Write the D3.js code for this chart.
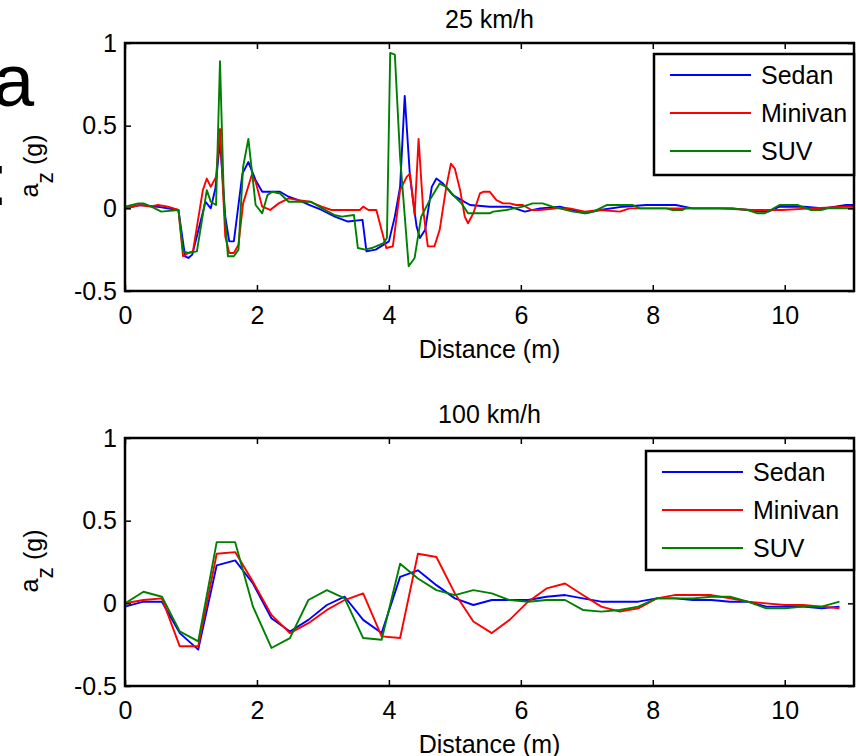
<!DOCTYPE html>
<html>
<head>
<meta charset="utf-8">
<script src="https://cdn.jsdelivr.net/npm/d3@7"></script>
<style>
  body { margin: 0; background: #fff; }
  svg { display: block; font-family: "Liberation Sans", Arial, sans-serif; }
</style>
</head>
<body>
<div id="chart"></div>
<script>
// ---- data ----
const vehicles = ['Sedan', 'Minivan', 'SUV'];
const xTicks = [0, 2, 4, 6, 8, 10];
const yTicks = [-0.5, 0, 0.5, 1];

// 25 km/h (dense sampling)
const sedanX25 = [0, 0.23, 0.48, 0.81, 0.91, 0.96, 1.02, 1.22, 1.30, 1.37, 1.44, 1.52, 1.58, 1.65, 1.78,
  1.87, 1.98, 2.08, 2.2, 2.35, 2.48, 2.63, 2.8, 2.98, 3.18, 3.38, 3.6, 3.66, 3.8, 4.0, 4.09, 4.17, 4.24,
  4.32, 4.42, 4.47, 4.55, 4.65, 4.72, 4.82, 4.97, 5.10, 5.23, 5.53, 5.83, 6.06, 6.29, 6.59, 6.79, 6.97,
  7.2, 7.55, 7.9, 8.35, 8.6, 9.2, 9.45, 9.62, 9.75, 9.92, 10.3, 10.6, 10.93, 11.05];
const sedan25 = [0, 0.02, 0.01, -0.01, -0.29, -0.3, -0.28, 0.04, 0.0, 0.12, 0.41, -0.05, -0.2, -0.2, 0.21,
  0.28, 0.17, 0.1, 0.1, 0.1, 0.07, 0.05, 0.02, -0.01, -0.05, -0.08, -0.07, -0.26, -0.25, -0.2, -0.05, 0.13, 0.68,
  0.19, -0.11, -0.18, -0.13, 0.13, 0.18, 0.15, 0.08, 0.05, 0.02, 0.01, 0.01, -0.02, 0.0, 0.01, -0.01, -0.03,
  -0.01, 0.01, 0.02, 0.02, 0.0, 0.0, -0.01, -0.02, -0.02, 0.01, 0.01, 0.0, 0.02, 0.02];

const minivanX25 = [0, 0.23, 0.38, 0.5, 0.65, 0.81, 0.88, 0.96, 1.03, 1.18, 1.24, 1.30, 1.38, 1.44, 1.52,
  1.58, 1.65, 1.72, 1.79, 1.92, 1.98, 2.08, 2.2, 2.33, 2.48, 2.63, 2.8, 2.98, 3.13, 3.43, 3.56, 3.61, 3.69,
  3.81, 3.96, 4.06, 4.17, 4.27, 4.32, 4.39, 4.45, 4.52, 4.59, 4.69, 4.77, 4.87, 4.94, 5.0, 5.08, 5.15, 5.2,
  5.28, 5.38, 5.43, 5.53, 5.63, 5.73, 5.83, 5.93, 6.03, 6.16, 6.29, 6.54, 6.74, 6.97, 7.2, 7.5, 7.65, 8.0,
  8.5, 9.0, 9.5, 9.96, 10.4, 10.9, 11.05];
const minivan25 = [0, 0.02, 0.01, 0.02, 0.01, -0.01, -0.29, -0.27, -0.26, 0.11, 0.18, 0.13, 0.19, 0.48, -0.17,
  -0.27, -0.27, -0.22, 0.03, 0.2, 0.16, 0.01, -0.01, 0.03, 0.06, 0.05, 0.04, 0.01, -0.01, -0.01, -0.01, 0.01, -0.01,
  -0.01, -0.24, -0.23, 0.11, 0.19, 0.21, -0.04, 0.42, -0.01, -0.23, -0.23, -0.13, 0.13, 0.27, 0.24, 0.11, -0.05, -0.09,
  -0.03, 0.09, 0.1, 0.1, 0.05, 0.03, 0.03, 0.02, 0.02, -0.01, -0.01, 0, 0, -0.02, -0.01, -0.02, 0, 0,
  0, 0, -0.01, -0.01, 0, 0.01, 0.01];

const suvX25 = [0, 0.2, 0.28, 0.4, 0.55, 0.81, 0.88, 0.96, 1.09, 1.24, 1.30, 1.38, 1.44, 1.5, 1.56, 1.65,
  1.72, 1.79, 1.87, 1.98, 2.08, 2.16, 2.23, 2.35, 2.48, 2.65, 2.82, 2.99, 3.17, 3.29, 3.47, 3.53, 3.64, 3.74,
  3.92, 3.97, 4.02, 4.09, 4.17, 4.3, 4.39, 4.49, 4.62, 4.77, 4.87, 5.0, 5.1, 5.2, 5.33, 5.53, 5.58, 5.78,
  6.03, 6.18, 6.33, 6.48, 6.79, 6.99, 7.1, 7.3, 7.7, 7.8, 8.2, 8.3, 8.45, 8.5, 9.2, 9.44, 9.59, 9.7, 9.92,
  10.2, 10.4, 10.55, 10.65, 11.05];
const suv25 = [0.01, 0.03, 0.03, 0.01, -0.02, -0.01, -0.26, -0.27, -0.26, 0.11, 0.04, 0.02, 0.89, 0.03, -0.29, -0.29,
  -0.25, 0.25, 0.42, 0.02, -0.03, 0.08, 0.1, 0.09, 0.04, 0.04, 0.04, 0, -0.04, -0.05, -0.04, -0.24, -0.25, -0.24,
  -0.21, -0.18, 0.94, 0.93, 0.31, -0.35, -0.3, -0.05, 0.05, 0.15, 0.13, 0.07, 0.03, -0.03, -0.03, -0.03, -0.02, -0.01,
  0.01, 0.03, 0.03, 0.01, -0.02, -0.03, -0.02, 0.02, 0.02, 0.0, 0.0, -0.01, -0.01, 0, 0, -0.01, -0.03, -0.03, 0.02,
  0.02, -0.01, -0.01, 0, 0];

// 100 km/h (coarse sampling)
const dist100 = [0, 0.28, 0.56, 0.83, 1.11, 1.39, 1.67, 1.94, 2.22, 2.5, 2.78, 3.06, 3.33, 3.61, 3.89, 4.17,
  4.44, 4.72, 5.0, 5.28, 5.56, 5.83, 6.11, 6.39, 6.67, 6.94, 7.22, 7.5, 7.78, 8.06, 8.33, 8.61, 8.89, 9.17,
  9.44, 9.72, 10.0, 10.28, 10.56, 10.83];
const sedan100 = [-0.02, 0.01, 0.01, -0.18, -0.28, 0.23, 0.26, 0.12, -0.09, -0.17, -0.1, -0.01, 0.04, -0.1, -0.18, 0.16,
  0.2, 0.11, 0.03, -0.01, 0.02, 0.02, 0.02, 0.04, 0.05, 0.03, 0.01, 0.01, 0.01, 0.03, 0.03, 0.02, 0.02, 0.01,
  0.01, -0.02, -0.02, -0.02, -0.03, -0.02];
const minivan100 = [0, 0.02, 0.03, -0.26, -0.26, 0.3, 0.31, 0.13, -0.07, -0.18, -0.12, -0.04, 0.02, 0.06, -0.2, -0.21,
  0.3, 0.28, 0.06, -0.11, -0.18, -0.1, 0.01, 0.09, 0.12, 0.05, -0.02, -0.05, -0.03, 0.03, 0.05, 0.05, 0.05, 0.03,
  0.01, 0.0, -0.01, -0.01, -0.02, -0.03];
const suv100 = [0, 0.07, 0.04, -0.17, -0.23, 0.37, 0.37, -0.02, -0.27, -0.21, 0.02, 0.08, 0.03, -0.21, -0.22, 0.24,
  0.15, 0.08, 0.05, 0.08, 0.06, 0.02, 0.01, 0.02, 0.02, -0.04, -0.05, -0.04, -0.02, 0.03, 0.03, 0.03, 0.04, 0.04,
  0.01, -0.03, -0.03, -0.02, -0.02, 0.01];

// ---- drawing ----
const colors = { Sedan: '#0000ff', Minivan: '#ff0000', SUV: '#008000' };
const width = 856, height = 756;
const fontSize = 25;

const svg = d3.select('#chart').append('svg')
  .attr('width', width)
  .attr('height', height);

// cropped figure letter in the corner
svg.append('text').attr('x', -7).attr('y', 106).attr('font-size', 74).text('a');
svg.append('text').attr('x', -12).attr('y', 205).attr('font-size', 74).text(':');

const x = d3.scaleLinear().domain([0, 11.05]).range([125, 854]);

function drawPanel(top, title, series, legendPos, id) {
  const plotH = 248;
  const y = d3.scaleLinear().domain([-0.5, 1]).range([top + plotH, top]);
  const g = svg.append('g');

  g.append('clipPath').attr('id', id)
    .append('rect')
    .attr('x', x.range()[0]).attr('y', top)
    .attr('width', x.range()[1] - x.range()[0]).attr('height', plotH);

  const line = d3.line().x(d => x(d[0])).y(d => y(d[1]));

  g.append('g').attr('clip-path', `url(#${id})`)
    .selectAll('path')
    .data(series)
    .join('path')
    .attr('d', s => line(d3.zip(s.xs, s.ys)))
    .attr('fill', 'none')
    .attr('stroke', s => colors[s.name])
    .attr('stroke-width', 1.9)
    .attr('stroke-linejoin', 'round');

  // axes, ticks pointing inward on all four sides
  const styleAxis = sel => {
    sel.select('.domain').remove();
    sel.attr('font-family', null);
    sel.selectAll('.tick line').attr('stroke', '#000').attr('stroke-width', 1.5);
    sel.selectAll('text').attr('font-size', fontSize).attr('fill', '#000');
  };
  g.append('g').attr('transform', `translate(0,${top + plotH})`)
    .call(d3.axisBottom(x).tickValues(xTicks).tickSize(-6).tickPadding(15).tickFormat(d3.format('d')))
    .call(styleAxis);
  g.append('g').attr('transform', `translate(0,${top})`)
    .call(d3.axisTop(x).tickValues(xTicks).tickSize(-6).tickFormat(''))
    .call(styleAxis);
  g.append('g').attr('transform', `translate(${x.range()[0]},0)`)
    .call(d3.axisLeft(y).tickValues(yTicks).tickSize(-6).tickPadding(8).tickFormat(d => d))
    .call(styleAxis);
  g.append('g').attr('transform', `translate(${x.range()[1]},0)`)
    .call(d3.axisRight(y).tickValues(yTicks).tickSize(-6).tickFormat(''))
    .call(styleAxis);

  g.append('rect')
    .attr('x', x.range()[0]).attr('y', top)
    .attr('width', x.range()[1] - x.range()[0]).attr('height', plotH)
    .attr('fill', 'none').attr('stroke', '#000').attr('stroke-width', 2.5);

  // title and labels
  const cx = (x.range()[0] + x.range()[1]) / 2;
  g.append('text').attr('x', cx).attr('y', top - 15)
    .attr('text-anchor', 'middle').attr('font-size', fontSize).text(title);
  g.append('text').attr('x', cx).attr('y', top + plotH + 67)
    .attr('text-anchor', 'middle').attr('font-size', fontSize).text('Distance (m)');

  const yl = g.append('text')
    .attr('transform', `translate(38,${top + 123}) rotate(-90)`)
    .attr('text-anchor', 'middle').attr('font-size', fontSize);
  yl.append('tspan').text('a');
  yl.append('tspan').attr('dy', 15).attr('font-size', 23).text('z');
  yl.append('tspan').attr('dy', -11).text(' (g)');

  // legend
  const lg = g.append('g').attr('transform', `translate(${legendPos[0]},${legendPos[1]})`);
  lg.append('rect').attr('width', legendPos[2]).attr('height', legendPos[3])
    .attr('fill', '#fff').attr('stroke', '#000').attr('stroke-width', 2.5);
  vehicles.forEach((name, i) => {
    const ly = 21 + i * 38;
    lg.append('line').attr('x1', 16).attr('x2', 97).attr('y1', ly).attr('y2', ly)
      .attr('stroke', colors[name]).attr('stroke-width', 1.8);
    lg.append('text').attr('x', 107).attr('y', ly + 9).attr('font-size', fontSize).text(name);
  });
}

drawPanel(43, '25 km/h', [
  { name: 'Sedan', xs: sedanX25, ys: sedan25 },
  { name: 'Minivan', xs: minivanX25, ys: minivan25 },
  { name: 'SUV', xs: suvX25, ys: suv25 }
], [654, 54, 200, 121], 'clip25');

drawPanel(438, '100 km/h', [
  { name: 'Sedan', xs: dist100, ys: sedan100 },
  { name: 'Minivan', xs: dist100, ys: minivan100 },
  { name: 'SUV', xs: dist100, ys: suv100 }
], [646, 451, 208, 119], 'clip100');
</script>
</body>
</html>
